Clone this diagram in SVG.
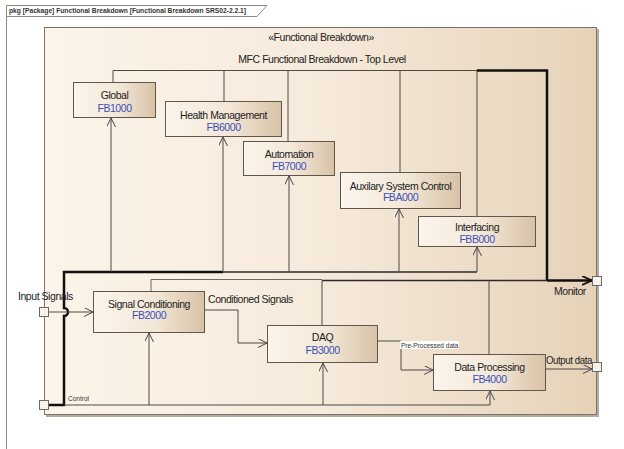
<svg xmlns="http://www.w3.org/2000/svg" width="624" height="449" viewBox="0 0 624 449">
<defs>
<linearGradient id="pkgGrad" x1="0" y1="0" x2="1" y2="0">
<stop offset="0" stop-color="#FCF4EA"/>
<stop offset="0.5" stop-color="#F6EADB"/>
<stop offset="1" stop-color="#E6D2B8"/>
</linearGradient>
<linearGradient id="boxGrad" x1="0" y1="0" x2="1" y2="0">
<stop offset="0" stop-color="#FCF5EC"/>
<stop offset="0.55" stop-color="#F3E7D7"/>
<stop offset="1" stop-color="#D8C2A6"/>
</linearGradient>
<marker id="arr" markerUnits="userSpaceOnUse" markerWidth="12" markerHeight="12" refX="9" refY="4.5" orient="auto">
<path d="M0,0 L9,4.5 L0,9" fill="none" stroke="#444" stroke-width="1"/>
</marker>
<marker id="arrThick" markerUnits="userSpaceOnUse" markerWidth="14" markerHeight="12" refX="10" refY="5" orient="auto">
<path d="M0,0.5 L10,5 L0,9.5" fill="none" stroke="#111" stroke-width="1.8"/>
</marker>
</defs>
<style>
.frame{fill:none;stroke:#8a8a8a;stroke-width:1}
.box{fill:url(#boxGrad);stroke:#5f574c;stroke-width:1}
.port{fill:#F7F2EA;stroke:#6a6a6a;stroke-width:1}
.t{font-family:"Liberation Sans",Arial,sans-serif;font-size:10.5px;letter-spacing:-0.45px;fill:#222;text-anchor:middle}
.code{fill:#3A4FB8}
.lbl{font-family:"Liberation Sans",Arial,sans-serif;font-size:10.5px;letter-spacing:-0.45px;fill:#222}
.small{font-family:"Liberation Sans",Arial,sans-serif;font-size:6.5px;fill:#333}
.c{fill:none;stroke:#4a4a4a;stroke-width:1}
.cg{fill:none;stroke:#6a6a6a;stroke-width:1}
.cm{fill:none;stroke:#2a2a2a;stroke-width:1.4}
.ck{fill:none;stroke:#111;stroke-width:2.5}
</style>

<g id="frame">
<path class="frame" d="M6.5,449 L6.5,5.5 L267,5.5 L257,16.5 L6.5,16.5"/>
<text x="9" y="13" font-family="Liberation Sans,Arial,sans-serif" font-size="7" font-weight="bold" fill="#333" textLength="237" lengthAdjust="spacingAndGlyphs">pkg [Package] Functional Breakdown [Functional Breakdown SRS02-2.2.1]</text>
</g>

<g id="package">
<rect x="46" y="29" width="553" height="388" fill="#b5aba0"/>
<rect x="44.5" y="27.5" width="552" height="387" fill="url(#pkgGrad)" stroke="#7a7168" stroke-width="1"/>
<text class="t" x="321" y="41">«Functional Breakdown»</text>
<text class="t" x="322" y="63">MFC Functional Breakdown - Top Level</text>
</g>

<g id="connectors">
<path class="c" d="M113,82 L113,70.5 L477,70.5"/>
<path class="c" d="M224,101 L224,70.5"/>
<path class="c" d="M288,141 L288,70.5"/>
<path class="c" d="M400,172 L400,70.5"/>
<path class="c" d="M477,216 L477,70.5"/>
<path class="ck" d="M477,70.5 L547,70.5 L547,280.5"/>
<path class="ck" d="M48,405 L64,405 L64,316 A4,4 0 0 0 64,308 L64,272 L223,272"/>
<path class="cm" d="M223,272 L477,272"/>
<path class="c" d="M111,272 L111,118" marker-end="url(#arr)"/>
<path class="c" d="M223,272 L223,137" marker-end="url(#arr)"/>
<path class="c" d="M289,272 L289,176" marker-end="url(#arr)"/>
<path class="c" d="M399,272 L399,209" marker-end="url(#arr)"/>
<path class="c" d="M477,272 L477,247" marker-end="url(#arr)"/>
<path class="c" d="M64,405 L490,405"/>
<path class="c" d="M149,405 L149,333" marker-end="url(#arr)"/>
<path class="c" d="M323,405 L323,363" marker-end="url(#arr)"/>
<path class="c" d="M490,405 L490,391" marker-end="url(#arr)"/>
<path class="c" d="M48.5,312 L93,312" marker-end="url(#arr)"/>
<path class="cg" d="M151,291 L151,279.5 L322,279.5"/>
<path class="c" d="M322,325 L322,280.5"/>
<path class="cm" d="M322,280.5 L547,280.5"/>
<path class="c" d="M489,354 L489,280.5"/>
<path class="ck" d="M547,280.5 L592,280.5" marker-end="url(#arrThick)"/>
<path class="c" d="M205,310 L238,310 L238,343 L267,343" marker-end="url(#arr)"/>
<path class="c" d="M378,341 L401,341 L401,370 L433,370" marker-end="url(#arr)"/>
<path class="c" d="M546,369 L592,369" marker-end="url(#arr)"/>
</g>

<g id="labels">
<text class="lbl" x="18" y="300">Input Signals</text>
<text class="lbl" x="208" y="302.5">Conditioned Signals</text>
<text class="lbl" x="554" y="295">Monitor</text>
<text class="lbl" x="546" y="364" textLength="46" lengthAdjust="spacingAndGlyphs">Output data</text>
<text class="small" x="68" y="401">Control</text>
<rect x="400" y="341" width="59" height="8" fill="#ffffff"/>
<text class="small" x="401" y="347.5">Pre-Processed data</text>
</g>

<g id="port-input"><rect class="port" x="39.5" y="307.5" width="9" height="9"/></g>
<g id="port-control"><rect class="port" x="39.5" y="400.5" width="9" height="9"/></g>
<g id="port-monitor"><rect class="port" x="592.5" y="276.5" width="9" height="9"/></g>
<g id="port-output"><rect class="port" x="592.5" y="362.5" width="9" height="9"/></g>

<g id="node-global">
<rect class="box" x="73.5" y="82.5" width="82" height="35"/>
<text class="t" x="114.5" y="99">Global</text>
<text class="t code" x="114.5" y="111.5">FB1000</text>
</g>
<g id="node-health">
<rect class="box" x="165.5" y="101.5" width="116" height="35"/>
<text class="t" x="223.5" y="119">Health Management</text>
<text class="t code" x="223.5" y="131">FB6000</text>
</g>
<g id="node-automation">
<rect class="box" x="243.5" y="141.5" width="91" height="34"/>
<text class="t" x="289" y="158">Automation</text>
<text class="t code" x="289" y="169.5">FB7000</text>
</g>
<g id="node-auxilary">
<rect class="box" x="340.5" y="172.5" width="120" height="36"/>
<text class="t" x="400.5" y="189.5">Auxilary System Control</text>
<text class="t code" x="400.5" y="200.5">FBA000</text>
</g>
<g id="node-interfacing">
<rect class="box" x="418.5" y="216.5" width="117" height="30"/>
<text class="t" x="477" y="230.5">Interfacing</text>
<text class="t code" x="477" y="243">FBB000</text>
</g>
<g id="node-signal">
<rect class="box" x="93.5" y="291.5" width="111" height="41"/>
<text class="t" x="149" y="307.5">Signal Conditioning</text>
<text class="t code" x="149" y="319">FB2000</text>
</g>
<g id="node-daq">
<rect class="box" x="267.5" y="325.5" width="110" height="37"/>
<text class="t" x="322.5" y="341">DAQ</text>
<text class="t code" x="322.5" y="354">FB3000</text>
</g>
<g id="node-dataproc">
<rect class="box" x="433.5" y="354.5" width="112" height="36"/>
<text class="t" x="489.5" y="370.5">Data Processing</text>
<text class="t code" x="489.5" y="382.5">FB4000</text>
</g>
</svg>
